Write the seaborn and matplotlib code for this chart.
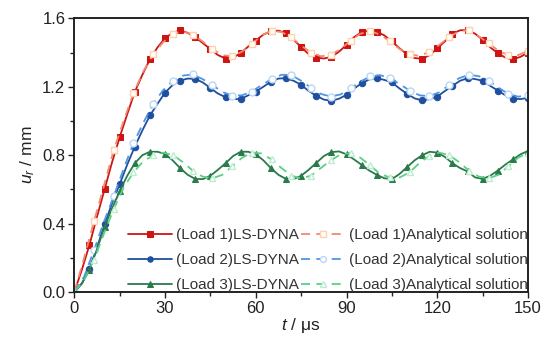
import numpy as np
import pandas as pd
import matplotlib
matplotlib.use("Agg")
import matplotlib.pyplot as plt
import seaborn as sns
from matplotlib.ticker import MultipleLocator

# ---- data -------------------------------------------------------------
t_fem = np.arange(0, 152.5, 2.5)          # LS-DYNA samples (markers every 5 us)
t_ana = np.linspace(0, 150, 47)           # analytical samples

load1_fem = [0.000, 0.130, 0.275, 0.440, 0.600, 0.760, 0.905, 1.040, 1.170, 1.270,
             1.360, 1.430, 1.484, 1.515, 1.530, 1.515, 1.490, 1.455, 1.420, 1.385,
             1.365, 1.370, 1.397, 1.435, 1.470, 1.505, 1.525, 1.528, 1.514, 1.475,
             1.432, 1.390, 1.371, 1.365, 1.375, 1.405, 1.445, 1.490, 1.520, 1.528,
             1.523, 1.500, 1.465, 1.425, 1.390, 1.368, 1.363, 1.385, 1.425, 1.465,
             1.510, 1.530, 1.532, 1.510, 1.475, 1.430, 1.397, 1.370, 1.360, 1.375,
             1.400]
load2_fem = [0.000, 0.050, 0.135, 0.260, 0.395, 0.520, 0.630, 0.745, 0.850, 0.945,
             1.032, 1.100, 1.166, 1.210, 1.236, 1.248, 1.246, 1.225, 1.192, 1.160,
             1.139, 1.128, 1.128, 1.150, 1.172, 1.200, 1.230, 1.248, 1.250, 1.235,
             1.211, 1.175, 1.147, 1.125, 1.118, 1.130, 1.153, 1.190, 1.220, 1.243,
             1.250, 1.240, 1.225, 1.190, 1.159, 1.132, 1.120, 1.128, 1.143, 1.175,
             1.205, 1.235, 1.250, 1.245, 1.235, 1.205, 1.178, 1.150, 1.130, 1.128,
             1.135]
load3_fem = [0.000, 0.050, 0.129, 0.250, 0.382, 0.490, 0.590, 0.680, 0.753, 0.800,
             0.820, 0.820, 0.807, 0.770, 0.724, 0.685, 0.661, 0.660, 0.680, 0.715,
             0.753, 0.795, 0.820, 0.820, 0.805, 0.770, 0.724, 0.685, 0.661, 0.660,
             0.680, 0.715, 0.755, 0.795, 0.818, 0.822, 0.805, 0.775, 0.743, 0.710,
             0.685, 0.665, 0.660, 0.690, 0.730, 0.770, 0.800, 0.820, 0.815, 0.790,
             0.753, 0.725, 0.705, 0.670, 0.661, 0.680, 0.710, 0.745, 0.775, 0.805,
             0.825]

load1_ana = [0.000, 0.200, 0.415, 0.620, 0.830, 1.000, 1.163, 1.290, 1.390, 1.460,
             1.508, 1.525, 1.505, 1.465, 1.420, 1.385, 1.378, 1.405, 1.450, 1.500,
             1.527, 1.520, 1.490, 1.440, 1.400, 1.378, 1.387, 1.420, 1.470, 1.510,
             1.525, 1.505, 1.465, 1.420, 1.390, 1.380, 1.405, 1.445, 1.490, 1.525,
             1.530, 1.495, 1.455, 1.410, 1.385, 1.385, 1.410]
load2_ana = [0.000, 0.090, 0.245, 0.410, 0.560, 0.720, 0.870, 0.990, 1.100, 1.180,
             1.235, 1.265, 1.272, 1.245, 1.210, 1.170, 1.148, 1.150, 1.172, 1.210,
             1.245, 1.270, 1.268, 1.235, 1.195, 1.158, 1.143, 1.155, 1.190, 1.230,
             1.260, 1.268, 1.250, 1.215, 1.178, 1.150, 1.145, 1.168, 1.210, 1.250,
             1.270, 1.262, 1.235, 1.195, 1.158, 1.142, 1.150]
load3_ana = [0.000, 0.070, 0.190, 0.340, 0.485, 0.610, 0.700, 0.765, 0.800, 0.815,
             0.800, 0.760, 0.710, 0.675, 0.665, 0.685, 0.735, 0.785, 0.815, 0.810,
             0.775, 0.725, 0.680, 0.665, 0.680, 0.725, 0.770, 0.805, 0.812, 0.785,
             0.740, 0.690, 0.670, 0.670, 0.700, 0.755, 0.797, 0.815, 0.800, 0.760,
             0.710, 0.675, 0.665, 0.685, 0.735, 0.785, 0.815]

labels_fem = ["(Load 1)LS-DYNA", "(Load 2)LS-DYNA", "(Load 3)LS-DYNA"]
labels_ana = ["(Load 1)Analytical solution", "(Load 2)Analytical solution",
              "(Load 3)Analytical solution"]
x_ticks = [0, 30, 60, 90, 120, 150]
y_ticks = [0.0, 0.4, 0.8, 1.2, 1.6]

# ---- style ------------------------------------------------------------
sns.set_theme(style="ticks")
plt.rcParams["font.family"] = ["Liberation Sans", "DejaVu Sans"]
plt.rcParams["mathtext.fontset"] = "custom"
plt.rcParams["mathtext.rm"] = "Liberation Sans"
plt.rcParams["mathtext.it"] = "Liberation Sans:italic"

fem_colors = ["#cc1414", "#1f4f9e", "#2a7a4b"]
fem_markers = ["s", "o", "^"]
ana_colors = ["#f4876e", "#4f95e3", "#5ccf86"]
ana_edge = ["#fdd2ad", "#b9d7f6", "#bdeccf"]

fig = plt.figure(figsize=(5.48, 3.46), dpi=100)
ax = fig.add_axes([0.1356, 0.156, 0.828, 0.791])

fem_series = [load1_fem, load2_fem, load3_fem]
ana_series = [load1_ana, load2_ana, load3_ana]

handles_fem, handles_ana = [], []
for i in range(3):
    sns.lineplot(x=t_fem, y=fem_series[i], ax=ax, color=fem_colors[i],
                 marker=fem_markers[i], markersize=4.6, markevery=2,
                 markeredgecolor=fem_colors[i], markerfacecolor=fem_colors[i],
                 linewidth=1.3, label=labels_fem[i], legend=False,
                 estimator=None, sort=False)
    handles_fem.append(ax.lines[-1])
    sns.lineplot(x=t_ana, y=ana_series[i], ax=ax, color=ana_colors[i],
                 linestyle=(0, (5, 3.5)), marker=fem_markers[i], markersize=5.0,
                 markevery=2, markerfacecolor="white", markeredgecolor=ana_edge[i],
                 markeredgewidth=1.0, linewidth=1.3, label=labels_ana[i],
                 legend=False, estimator=None, sort=False)
    handles_ana.append(ax.lines[-1])

ax.set_xlim(0, 150)
ax.set_ylim(0, 1.6)
ax.set_xticks(x_ticks)
ax.set_yticks(y_ticks)
ax.set_yticklabels([f"{v:.1f}" for v in y_ticks])
ax.xaxis.set_minor_locator(MultipleLocator(15))
ax.yaxis.set_minor_locator(MultipleLocator(0.2))
ax.tick_params(which="major", direction="out", length=4.5, width=1.0,
               labelsize=12, colors="#222222", pad=2,
               top=False, right=False)
ax.tick_params(which="minor", direction="out", length=2.8, width=1.0,
               top=False, right=False)
for s in ax.spines.values():
    s.set_visible(True)
    s.set_linewidth(1.4)
    s.set_color("#222222")

ax.set_xlabel(r"$t$ / $\mathrm{\mu}$s", fontsize=12.5, color="#222222", labelpad=0)
ax.set_ylabel(r"$u_r$ / mm", fontsize=12.5, color="#222222", labelpad=4)

leg = ax.legend(handles_fem + handles_ana, labels_fem + labels_ana, ncol=2,
                loc="lower right", bbox_to_anchor=(1.0, 0.0), frameon=False,
                fontsize=11, handlelength=2.9, handletextpad=0.25,
                columnspacing=0.15, labelspacing=0.72, borderaxespad=0.0,
                borderpad=0.0, markerscale=0.85)
for txt in leg.get_texts():
    txt.set_color("#333333")

fig.savefig("out.png", dpi=100)
